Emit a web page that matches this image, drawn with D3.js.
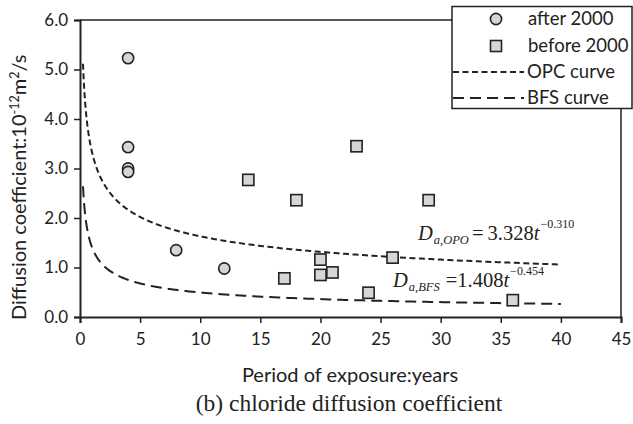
<!DOCTYPE html>
<html>
<head>
<meta charset="utf-8">
<script src="https://cdn.jsdelivr.net/npm/d3@7"></script>
<style>
  html, body { margin: 0; padding: 0; background: #fff; }
  svg { display: block; }
  .sans { font-family: Lato, "Open Sans", sans-serif; fill: #222; }
  .serif { font-family: "Liberation Serif", "Times New Roman", serif; fill: #222; }
</style>
</head>
<body>
<svg id="chart" width="633" height="424"></svg>
<script>
// Measured chloride diffusion coefficients (10^-12 m^2/s) vs exposure period (years)
const afterYears  = [4, 4, 4, 4, 8, 12];
const afterD      = [5.23, 3.43, 3.00, 2.93, 1.35, 0.98];
const beforeYears = [14, 18, 17, 23, 29, 26, 20, 20, 21, 24, 36];
const beforeD     = [2.77, 2.36, 0.78, 3.45, 2.36, 1.20, 1.16, 0.85, 0.90, 0.49, 0.34];

// Fitted power laws D = a * t^b
const curveNames  = ["OPC curve", "BFS curve"];
const curveCoef   = [3.328, 1.408];
const curveExp    = [-0.310, -0.454];
const curveRange  = [0.25, 40];

const xTicks = [0, 5, 10, 15, 20, 25, 30, 35, 40, 45];
const yTicks = [0, 1, 2, 3, 4, 5, 6];

const svg = d3.select("#chart");
const x = d3.scaleLinear().domain([0, 45]).range([80, 621]);
const y = d3.scaleLinear().domain([0, 6]).range([317, 20]);

const ink = "#222";
const fillGray = "#d6d6d6";

// frame (top and right)
svg.append("path")
  .attr("d", `M${x(0)},${y(6)}H${x(45)}V${y(0)}`)
  .attr("fill", "none").attr("stroke", ink).attr("stroke-width", 1.5);

// axes
const xAxis = svg.append("g").attr("transform", `translate(0,${y(0)})`)
  .call(d3.axisBottom(x).tickValues(xTicks).tickSize(6).tickPadding(10).tickFormat(d3.format("d")));
const yAxis = svg.append("g").attr("transform", `translate(${x(0)},0)`)
  .call(d3.axisLeft(y).tickValues(yTicks).tickSize(6).tickPadding(6).tickFormat(d3.format(".1f")));
[xAxis, yAxis].forEach(g => {
  g.select(".domain").attr("stroke", ink).attr("stroke-width", 2);
  g.selectAll(".tick line").attr("stroke", ink).attr("stroke-width", 1.5);
  g.selectAll(".tick text").attr("class", "sans").attr("font-size", 17).attr("fill", ink)
    .style("font-family", "Lato, 'Open Sans', sans-serif");
});

// fitted curves
const dashes = ["6,3.5", "11,6"];
curveCoef.forEach((a, i) => {
  const ts = d3.range(0, 401).map(k => curveRange[0] * Math.pow(curveRange[1] / curveRange[0], k / 400));
  const pts = ts.map(t => [t, a * Math.pow(t, curveExp[i])]);
  svg.append("path")
    .datum(pts)
    .attr("d", d3.line().x(d => x(d[0])).y(d => y(d[1])))
    .attr("fill", "none").attr("stroke", ink).attr("stroke-width", 2)
    .attr("stroke-dasharray", dashes[i]);
});

// data markers
const after = afterYears.map((t, i) => ({ t, d: afterD[i] }));
const before = beforeYears.map((t, i) => ({ t, d: beforeD[i] }));
svg.append("g").selectAll("circle").data(after).join("circle")
  .attr("cx", d => x(d.t)).attr("cy", d => y(d.d)).attr("r", 5.6)
  .attr("fill", fillGray).attr("stroke", ink).attr("stroke-width", 1.6);
svg.append("g").selectAll("rect").data(before).join("rect")
  .attr("x", d => x(d.t) - 5.6).attr("y", d => y(d.d) - 5.6)
  .attr("width", 11.2).attr("height", 11.2)
  .attr("fill", fillGray).attr("stroke", ink).attr("stroke-width", 1.6);

// equations
function equation(px, py, coef, sub, eqText, eqGap, pow) {
  const t = svg.append("text").attr("class", "serif").attr("x", px).attr("y", py).attr("font-size", 20.5);
  t.append("tspan").attr("font-style", "italic").text("D");
  t.append("tspan").attr("font-style", "italic").attr("font-size", 12.5).attr("dy", 4).attr("dx", 1).text(sub);
  t.append("tspan").attr("dy", -4).attr("dx", eqGap).text(eqText + coef);
  t.append("tspan").attr("font-style", "italic").text("t");
  t.append("tspan").attr("font-size", 12).attr("dy", -12).attr("dx", 1).text("\u2212" + Math.abs(pow).toFixed(3));
}
equation(418, 240, curveCoef[0].toFixed(3), "a,OPO", "=\u2009", 3, curveExp[0]);
equation(393, 287, curveCoef[1].toFixed(3), "a,BFS", "=", 6, curveExp[1]);

// axis titles
svg.append("text").attr("class", "sans").attr("x", 350).attr("y", 382)
  .attr("text-anchor", "middle").attr("font-size", 20).text("Period of exposure:years");
const yt = svg.append("text").attr("class", "sans")
  .attr("transform", "translate(26,320) rotate(-90)")
  .attr("text-anchor", "start").attr("font-size", 20);
yt.append("tspan").text("Diffusion coefficient:10");
yt.append("tspan").attr("font-size", 12.5).attr("dy", -7).text("-12");
yt.append("tspan").attr("dy", 7).text("m");
yt.append("tspan").attr("font-size", 12.5).attr("dy", -7).text("2");
yt.append("tspan").attr("dy", 7).text("/s");

// caption
svg.append("text").attr("class", "serif").attr("x", 349).attr("y", 411)
  .attr("text-anchor", "middle").attr("font-size", 23.5).text("(b) chloride diffusion coefficient");

// legend
const lg = svg.append("g");
lg.append("rect").attr("x", 452).attr("y", 6.5).attr("width", 180).attr("height", 102)
  .attr("fill", "#fff").attr("stroke", ink).attr("stroke-width", 1.5);
const rowsY = [19, 46, 72, 98];
const labels = ["after 2000", "before 2000", curveNames[0], curveNames[1]];
lg.append("circle").attr("cx", 496).attr("cy", rowsY[0]).attr("r", 5.6)
  .attr("fill", fillGray).attr("stroke", ink).attr("stroke-width", 1.6);
lg.append("rect").attr("x", 490.5).attr("y", rowsY[1] - 5.5).attr("width", 11).attr("height", 11)
  .attr("fill", fillGray).attr("stroke", ink).attr("stroke-width", 1.6);
[2, 3].forEach((r, i) => {
  lg.append("line").attr("x1", 453).attr("x2", 524).attr("y1", rowsY[r]).attr("y2", rowsY[r])
    .attr("stroke", ink).attr("stroke-width", 2).attr("stroke-dasharray", dashes[i]);
});
labels.forEach((s, i) => {
  lg.append("text").attr("class", "sans").attr("x", i < 2 ? 528 : 527).attr("y", rowsY[i])
    .attr("dy", "0.35em").attr("font-size", 18.5).text(s);
});
</script>
</body>
</html>
